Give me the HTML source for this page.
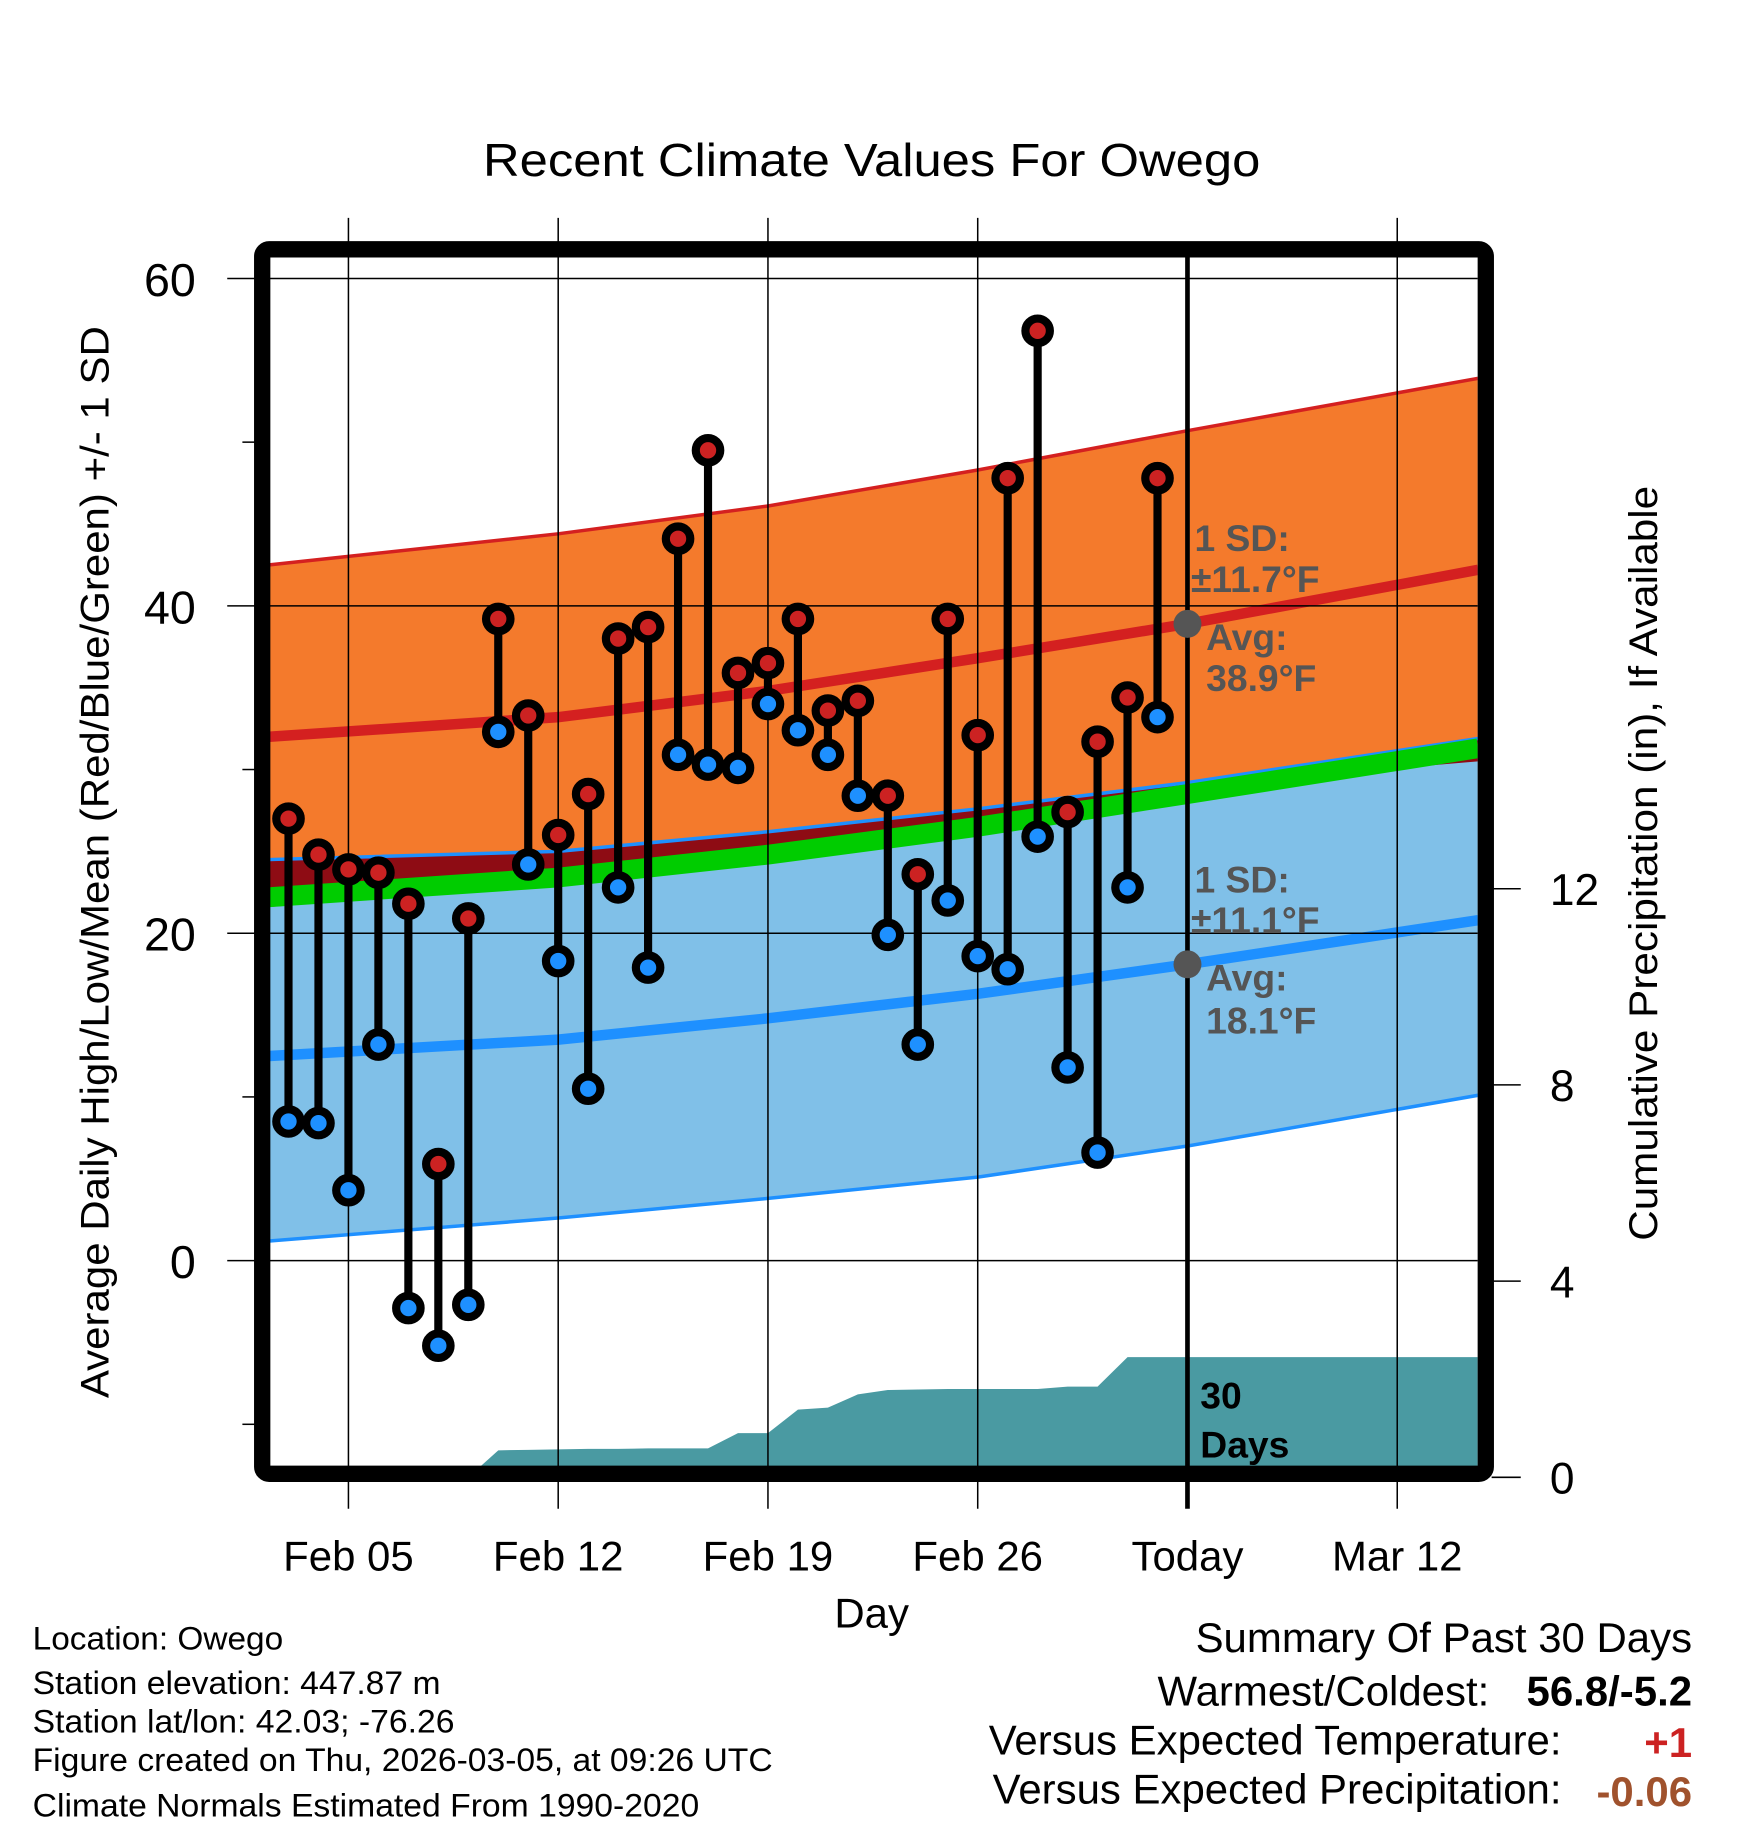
<!DOCTYPE html>
<html><head><meta charset="utf-8"><style>
html,body{margin:0;padding:0;background:#fff;}
svg{display:block;font-family:"Liberation Sans",Arial,sans-serif;}
</style></head><body>
<svg id="chart" width="1748" height="1828" viewBox="0 0 1500 1569" preserveAspectRatio="none" xmlns="http://www.w3.org/2000/svg">
<rect width="1500" height="1569" fill="#fff"/>
<g id="plot"></g>
</svg>
<script>
// ---- data ----
const days = [3,4,5,6,7,8,9,10,11,12,13,14,15,16,17,18,19,20,21,22,23,24,25,26,27,28,29,30,31,32];
const highs = [27.0,24.8,23.9,23.7,21.8,5.9,20.9,39.2,33.3,26.0,28.5,38.0,38.7,44.1,49.5,35.9,36.5,39.2,33.6,34.2,28.4,23.6,39.2,32.1,47.8,56.8,27.4,31.7,34.4,47.8];
const lows = [8.5,8.4,4.3,13.2,-2.9,-5.2,-2.7,32.3,24.2,18.3,10.5,22.8,17.9,30.9,30.3,30.1,34.0,32.4,30.9,28.4,19.9,13.2,22.0,18.6,17.8,25.9,11.8,6.6,22.8,33.2];
const precip = [0,0,0,0,0,0,0,0.55,0.56,0.57,0.58,0.58,0.59,0.59,0.59,0.9,0.9,1.38,1.42,1.69,1.78,1.79,1.8,1.8,1.8,1.8,1.85,1.85,2.45,2.45];
const normDays = [2.36,12,19,26,33,42.7];
const hiMean = [32.0,33.2,34.8,36.8,38.9,42.2];
const hiUp = [42.5,44.4,46.1,48.3,50.7,53.9];
const hiLow = [21.6,23.0,24.6,26.6,29.0,30.5];
const loMean = [12.5,13.5,14.8,16.3,18.1,20.8];
const loUp = [24.5,25.0,26.2,27.6,29.2,31.9];
const loLow = [1.2,2.6,3.8,5.1,7.0,10.1];
const avgMean = [22.2,23.4,24.8,26.5,28.5,31.3];
const xTickDays = [5,12,19,26,33,40];
const xTickLabels = ["Feb 05","Feb 12","Feb 19","Feb 26","Today","Mar 12"];
const yTicks = [60,40,20,0];
const yMinor = [50,30,10,-10];
const pTicks = [0,4,8,12];
const todayDay = 33, endDay = 42.7, startDay = 2.36;

// ---- scales ----
const X = d => 299 + (d-5)*180/7;
const Y = t => 1082 - t*14.05;
const P = v => 1268 - v*42.1;
const L = 231, R = 1268, T = 220, B = 1260;
const NS = "http://www.w3.org/2000/svg";
const g = document.getElementById('plot');
function mk(tag, attrs, parent){const e=document.createElementNS(NS,tag);for(const k in attrs)e.setAttribute(k,attrs[k]);(parent||g).appendChild(e);return e;}
function txt(s, attrs){const e=mk('text',attrs);e.textContent=s;return e;}

const defs = mk('defs',{});
const cp = mk('clipPath',{id:'clip'},defs);
mk('rect',{x:L,y:T,width:R-L,height:B-T},cp);
const pg = mk('g',{'clip-path':'url(#clip)'});



function line(arr){return normDays.map((d,i)=>X(d)+','+Y(arr[i])).join(' ');}
function band(up,lo){return line(up)+' '+normDays.map((d,i)=>X(d)+','+Y(lo[i])).reverse().join(' ');}

let e;
e = mk('polygon',{points:band(hiUp,hiLow),fill:'#f47a2c'},pg);


e = mk('polygon',{points:band(loUp,loLow),fill:'#80c0e8'},pg);


const ovUp = loUp.map((v,i)=>Math.max(v,hiLow[i]));
e = mk('polygon',{points:band(ovUp,hiLow),fill:'#8e0c14'},pg);


e = mk('polyline',{points:line(loUp),fill:'none',stroke:'#1e90ff','stroke-width':3},pg);


e = mk('polyline',{points:line(hiUp),fill:'none',stroke:'#d42020','stroke-width':3},pg);


e = mk('polyline',{points:line(loLow),fill:'none',stroke:'#1e90ff','stroke-width':3},pg);



const pPts = [X(days[0])+','+B].concat(days.map((d,i)=>X(d)+','+P(precip[i])));
pPts.push(X(endDay)+','+P(precip[precip.length-1]), X(endDay)+','+B);
e = mk('polygon',{points:pPts.join(' '),fill:'#4a9aa2'},pg);



yTicks.forEach(t=>{const l=mk('line',{x1:195,x2:R,y1:Y(t),y2:Y(t),stroke:'#000','stroke-width':1.3});

});
xTickDays.forEach((d,i)=>{const l=mk('line',{x1:X(d),x2:X(d),y1:(d===todayDay?214:187),y2:1295,stroke:'#000','stroke-width':(d===todayDay?4:1.3)});

});

e = mk('polyline',{points:line(hiMean),fill:'none',stroke:'#d42020','stroke-width':9},pg);


e = mk('polyline',{points:line(loMean),fill:'none',stroke:'#1e90ff','stroke-width':9},pg);


e = mk('polyline',{points:line(avgMean),fill:'none',stroke:'#00cc00','stroke-width':17},pg);



yMinor.forEach(t=>{const l=mk('line',{x1:208,x2:220,y1:Y(t),y2:Y(t),stroke:'#000','stroke-width':1.3});

});
yTicks.forEach(t=>{const s=txt(String(t),{x:168,y:Y(t)+15,'font-size':40,'text-anchor':'end'});

});
pTicks.forEach(v=>{const yy=1268-v*42.1;
const l=mk('line',{x1:1280,x2:1305,y1:yy,y2:yy,stroke:'#000','stroke-width':1.3});


const s=txt(String(v),{x:1330,y:yy+14,'font-size':38});

});
xTickDays.forEach((d,i)=>{const s=txt(xTickLabels[i],{x:X(d),y:1348,'font-size':36,'text-anchor':'middle'});

});

days.forEach((d,i)=>{
  const s=mk('line',{x1:X(d),x2:X(d),y1:Y(highs[i]),y2:Y(lows[i]),stroke:'#000','stroke-width':7});
  
  
});
days.forEach((d,i)=>{
  const h=mk('circle',{cx:X(d),cy:Y(highs[i]),r:10.5,fill:'#cc2222',stroke:'#000','stroke-width':7});
  
  
  const lo=mk('circle',{cx:X(d),cy:Y(lows[i]),r:10.5,fill:'#1e90ff',stroke:'#000','stroke-width':7});
  
  
});

e = mk('circle',{cx:X(todayDay),cy:Y(hiMean[4]),r:12,fill:'#555'});


e = mk('circle',{cx:X(todayDay),cy:Y(loMean[4]),r:12,fill:'#555'});



e = mk('rect',{x:225,y:214,width:1050,height:1051,rx:6,fill:'none',stroke:'#000','stroke-width':14});



function ann(s,x,y,name,attrs){const t=txt(s,Object.assign({x:x,y:y,'font-size':32,'font-weight':'bold',fill:'#555'},attrs||{}));

return t;}
ann('1 SD:',1025,473,'high-sd-label');
ann('±11.7°F',1022,508,'high-sd-value');
ann('Avg:',1035,558,'high-avg-label');
ann('38.9°F',1035,593,'high-avg-value');
ann('1 SD:',1025,766,'low-sd-label');
ann('±11.1°F',1022,801,'low-sd-value');
ann('Avg:',1035,850,'low-avg-label');
ann('18.1°F',1035,887,'low-avg-value');
ann('30',1030,1209,'days-label-number',{fill:'#000'});
ann('Days',1030,1251,'days-label-text',{fill:'#000'});

function T2(s,a,name){const t=txt(s,a);return t;}
T2('Recent Climate Values For Owego',{x:748,y:151,'font-size':40,'text-anchor':'middle',textLength:667,lengthAdjust:'spacingAndGlyphs'},'chart-title');
T2('Average Daily High/Low/Mean (Red/Blue/Green) +/- 1 SD',{x:0,y:0,'font-size':34,'text-anchor':'middle',textLength:920,lengthAdjust:'spacingAndGlyphs',transform:'translate(93,740) rotate(-90)'},'y-axis-title');
T2('Cumulative Precipitation (in), If Available',{x:0,y:0,'font-size':34,'text-anchor':'middle',textLength:648,lengthAdjust:'spacingAndGlyphs',transform:'translate(1422,741) rotate(-90)'},'right-axis-title');
T2('Day',{x:748,y:1397,'font-size':36,'text-anchor':'middle'},'x-axis-title');

const info=['Location: Owego','Station elevation: 447.87 m','Station lat/lon: 42.03; -76.26','Figure created on Thu, 2026-03-05, at 09:26 UTC','Climate Normals Estimated From 1990-2020'];
const infoY=[1416,1454,1487,1520,1559];
const infoW=[215,350,362,635,572];
info.forEach((s,i)=>T2(s,{x:28,y:infoY[i],'font-size':28,textLength:infoW[i],lengthAdjust:'spacingAndGlyphs'},'station-info-line'));

T2('Summary Of Past 30 Days',{x:1452,y:1418,'font-size':36,'text-anchor':'end'},'summary-title');
T2('Warmest/Coldest:',{x:1278,y:1464,'font-size':36,'text-anchor':'end'},'warmest-coldest-label');
T2('56.8/-5.2',{x:1452,y:1464,'font-size':36,'font-weight':'bold','text-anchor':'end'},'warmest-coldest-value');
T2('Versus Expected Temperature:',{x:1340,y:1506,'font-size':36,'text-anchor':'end'},'temp-anomaly-label');
T2('+1',{x:1452,y:1508,'font-size':36,'font-weight':'bold','text-anchor':'end',fill:'#cc2222'},'temp-anomaly-value');
T2('Versus Expected Precipitation:',{x:1340,y:1548,'font-size':36,'text-anchor':'end'},'precip-anomaly-label');
T2('-0.06',{x:1452,y:1550,'font-size':36,'font-weight':'bold','text-anchor':'end',fill:'#a0522d'},'precip-anomaly-value');
</script>
</body></html>
